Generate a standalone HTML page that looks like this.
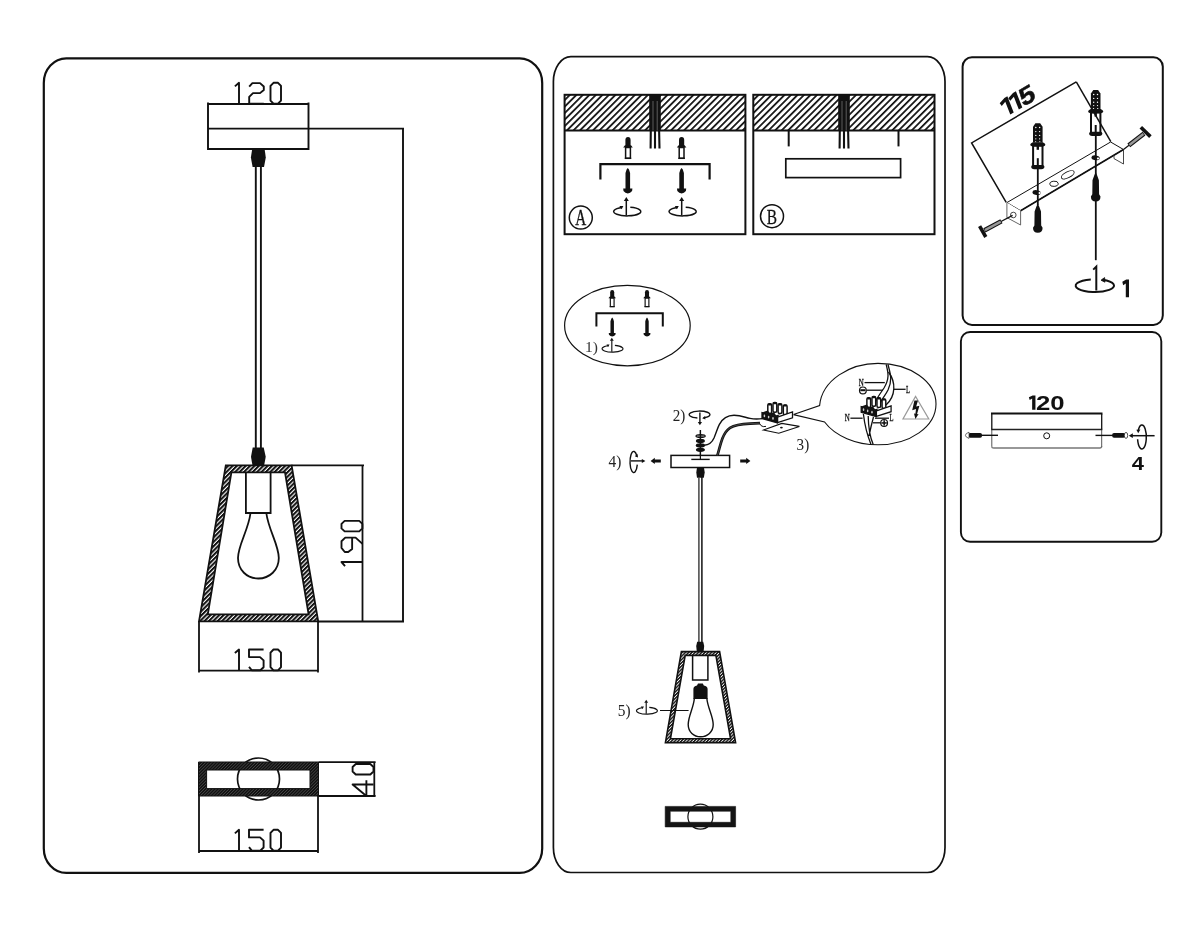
<!DOCTYPE html>
<html><head><meta charset="utf-8"><title>Pendant lamp installation diagram</title>
<style>
html,body{margin:0;padding:0;background:#fff;}
body{width:1200px;height:933px;overflow:hidden;font-family:"Liberation Sans",sans-serif;}
svg{display:block;will-change:transform;}
</style></head><body>
<svg width="1200" height="933" viewBox="0 0 1200 933">
<rect width="1200" height="933" fill="#fff"/>
<defs>
<pattern id="h1" width="4.6" height="4.6" patternUnits="userSpaceOnUse" patternTransform="rotate(-45)"><rect width="4.6" height="4.6" fill="#fff"/><rect y="0" width="4.6" height="1.75" fill="#111"/></pattern>
<pattern id="h2" width="3.1" height="3.1" patternUnits="userSpaceOnUse" patternTransform="rotate(-45)"><rect width="3.1" height="3.1" fill="#fff"/><rect y="0" width="3.1" height="2" fill="#111"/></pattern>
<pattern id="h3" width="2.2" height="2.2" patternUnits="userSpaceOnUse" patternTransform="rotate(-45)"><rect width="2.2" height="2.2" fill="#111"/><rect y="0" width="2.2" height="0.45" fill="#666"/></pattern>
<pattern id="h4" width="2.3" height="2.3" patternUnits="userSpaceOnUse" patternTransform="rotate(-45)"><rect width="2.3" height="2.3" fill="#fff"/><rect y="0" width="2.3" height="1.4" fill="#111"/></pattern>
<g id="anchor"><path d="M-2.6,10 L-2.6,3 Q-2.6,0 0,0 Q2.6,0 2.6,3 L2.6,10 Z" fill="#111"/><path d="M-4.8,10.5 L-3,8.3 L3,8.3 L4.8,10.5 Z" fill="#111"/><rect x="-2.4" y="10.5" width="4.8" height="10.8" fill="#fff" stroke="#111" stroke-width="1.5"/><rect x="-3.2" y="20.6" width="6.4" height="1.4" fill="#111"/></g>
<g id="screw"><path d="M0,0 L1.2,1.6 L2.3,5 L2.3,20.5 L4.6,20.5 L4.3,23 Q2.5,25.4 0,25.4 Q-2.5,25.4 -4.3,23 L-4.6,20.5 L-2.3,20.5 L-2.3,5 L-1.2,1.6 Z" fill="#111"/></g>
<g id="rot"><path d="M-4.6,-3.9 A13.6,4.4 0 1 0 3.5,-4.1" fill="none" stroke="#111" stroke-width="1.5"/><path d="M-7.4,-5.4 L-3.4,-5.2 L-5.4,-2 Z" fill="#111"/><line x1="-0.5" y1="-11" x2="-0.5" y2="4.2" stroke="#111" stroke-width="1.5"/><path d="M-0.5,-14.2 L-3,-10.2 L2,-10.2 Z" fill="#111"/></g>
</defs>
<g fill="none" stroke="#111">
<rect x="43.8" y="58.4" width="498.4" height="814.5" rx="22.5" ry="24.5" stroke-width="2.2"/>
<rect x="553.4" y="56.6" width="391.6" height="815.9" rx="17.5" ry="25" stroke-width="1.7"/>
<rect x="962.6" y="57.2" width="200.2" height="267.7" rx="9.4" ry="9.4" stroke-width="2"/>
<rect x="960.9" y="332" width="200.4" height="209.8" rx="9.2" ry="9.2" stroke-width="1.9"/>
</g>
<g id="p1" fill="none" stroke="#111" stroke-width="1.9">
<path d="M208,102.4 L208,149 L308.5,149 L308.5,102.4"/>
<line x1="208" y1="104" x2="308.5" y2="104"/>
<line x1="208" y1="128.6" x2="404" y2="128.6"/>
<line x1="403" y1="128.6" x2="403" y2="621.5"/>
<line x1="255.8" y1="166" x2="255.8" y2="448" stroke-width="1.9"/><line x1="260.9" y1="166" x2="260.9" y2="448" stroke-width="1.9"/>
<path d="M252.2,149 L264.6,149 L265.8,157.4 L264,167 L252.6,167 L250.9,157.4 Z" fill="#111" stroke="none"/>
<path d="M252.7,447.6 L263.7,447.6 L265.7,456.7 L264.2,465 L252.4,465 L251,456.7 Z" fill="#111" stroke="none"/>
</g>
<path d="M225.8,465.4 L291.6,465.4 L318.2,621.4 L199,621.4 Z M231.4,472.4 L285,472.4 L308.6,614.4 L207.8,614.4 Z" fill="url(#h2)" fill-rule="evenodd" stroke="#111" stroke-width="1.8"/>
<g fill="none" stroke="#111" stroke-width="1.8">
<path d="M245.9,472.4 L245.9,513 L270.6,513 L270.6,472.4"/>
<path d="M250.5,513 C248.5,530 238,545 238,558 C238,570 247,578.5 258.3,578.5 C269.6,578.5 278.8,570 278.8,558 C278.8,545 268.5,530 266.3,513"/>
<line x1="291.5" y1="465.4" x2="364" y2="465.4"/><line x1="362.5" y1="465.4" x2="362.5" y2="621.5"/><line x1="318" y1="621.5" x2="404" y2="621.5"/>
<line x1="199" y1="621.5" x2="199" y2="672.5"/><line x1="318" y1="621.5" x2="318" y2="672.5"/><line x1="199" y1="670.6" x2="318" y2="670.6"/>
</g>
<g transform="translate(234.9,82.8) scale(1,0.985)" fill="none" stroke="#111" stroke-width="1.9" stroke-linejoin="round"><path d="M0,3.6 L4.1,0 L4.1,21.3" transform="translate(0,0)"/><path d="M0,3.8 L3.2,0.3 L10.8,0.3 L14.6,3.8 L14.6,7.3 L10.8,10.5 L3.8,10.5 L0,14.3 L0,21.3 L14.6,21.3" transform="translate(14.3,0)"/><path d="M3,0 L7.5,0 L10.5,3.2 L10.5,18 L7.5,21.2 L3,21.2 L0,18 L0,3.2 Z" transform="translate(35.6,0)"/></g>
<g transform="translate(234.9,649.5) scale(1,0.985)" fill="none" stroke="#111" stroke-width="1.9" stroke-linejoin="round"><path d="M0,3.6 L4.1,0 L4.1,21.3" transform="translate(0,0)"/><path d="M14.6,0 L0,0 L0,7.7 L11,7.7 L14.6,11 L14.6,18 L11.3,21.1 L2.8,21.1 L0,17.6" transform="translate(14.1,0)"/><path d="M3,0 L7.5,0 L10.5,3.2 L10.5,18 L7.5,21.2 L3,21.2 L0,18 L0,3.2 Z" transform="translate(35.6,0)"/></g>
<g transform="translate(341.5,566.1) rotate(-90) scale(1,0.985)" fill="none" stroke="#111" stroke-width="1.9" stroke-linejoin="round"><path d="M0,3.6 L4.1,0 L4.1,21.3" transform="translate(0,0)"/><path d="M8.4,21.3 L14.7,14.3 L14.7,3.8 L11,0 L4.4,0 L0.3,3.3 L0.3,6.8 L3.4,10.8 L14.7,10.8" transform="translate(13.8,0)"/><path d="M3,0 L7.5,0 L10.5,3.2 L10.5,18 L7.5,21.2 L3,21.2 L0,18 L0,3.2 Z" transform="translate(34.7,0)"/></g>
<circle cx="258.5" cy="779" r="21" fill="none" stroke="#111" stroke-width="1.7"/>
<path d="M198.5,762 L318.5,762 L318.5,796 L198.5,796 Z M206.6,770 L310,770 L310,788.6 L206.6,788.6 Z" fill="url(#h3)" fill-rule="evenodd" stroke="#111" stroke-width="1"/>
<g fill="none" stroke="#111" stroke-width="1.8">
<line x1="318.5" y1="762.2" x2="375.6" y2="762.2"/><line x1="318.5" y1="796" x2="375.6" y2="796"/><line x1="374.3" y1="762.2" x2="374.3" y2="796"/>
<line x1="199" y1="796" x2="199" y2="853"/><line x1="318" y1="796" x2="318" y2="853"/><line x1="199" y1="851" x2="318" y2="851"/>
</g>
<g transform="translate(234.9,829.8) scale(1,0.985)" fill="none" stroke="#111" stroke-width="1.9" stroke-linejoin="round"><path d="M0,3.6 L4.1,0 L4.1,21.3" transform="translate(0,0)"/><path d="M14.6,0 L0,0 L0,7.7 L11,7.7 L14.6,11 L14.6,18 L11.3,21.1 L2.8,21.1 L0,17.6" transform="translate(14.1,0)"/><path d="M3,0 L7.5,0 L10.5,3.2 L10.5,18 L7.5,21.2 L3,21.2 L0,18 L0,3.2 Z" transform="translate(35.6,0)"/></g>
<g transform="translate(352.6,796) rotate(-90) scale(1,0.985)" fill="none" stroke="#111" stroke-width="1.9" stroke-linejoin="round"><path d="M11.5,21.3 L11.5,0 L0,14 L15.8,14" transform="translate(0,0)"/><path d="M3,0 L7.5,0 L10.5,3.2 L10.5,18 L7.5,21.2 L3,21.2 L0,18 L0,3.2 Z" transform="translate(21.5,0)"/></g>
<rect x="564.6" y="94.8" width="180.79999999999995" height="35.7" fill="url(#h1)"/><rect x="564.6" y="94.8" width="180.79999999999995" height="139.4" fill="none" stroke="#111" stroke-width="2"/><line x1="564.6" y1="130.5" x2="745.4" y2="130.5" stroke="#111" stroke-width="1.9"/><rect x="649.2" y="94.8" width="11.6" height="36" fill="#111"/><path d="M653.0,101 L653.0,130.5 M657.2,101 L657.2,130.5" stroke="#aaa" stroke-width="0.5" fill="none"/><path d="M650.8000000000001,130 L650.6,148.6 M655.0,130 L655.0,148.6 M659.1,130 L659.5,148.6" stroke="#111" stroke-width="2.1" fill="none"/>
<rect x="753.3" y="94.8" width="181.20000000000005" height="35.7" fill="url(#h1)"/><rect x="753.3" y="94.8" width="181.20000000000005" height="139.4" fill="none" stroke="#111" stroke-width="2"/><line x1="753.3" y1="130.5" x2="934.5" y2="130.5" stroke="#111" stroke-width="1.9"/><rect x="838.2" y="94.8" width="11.6" height="36" fill="#111"/><path d="M842.0,101 L842.0,130.5 M846.2,101 L846.2,130.5" stroke="#aaa" stroke-width="0.5" fill="none"/><path d="M839.8000000000001,130 L839.6,148.6 M844.0,130 L844.0,148.6 M848.1,130 L848.5,148.6" stroke="#111" stroke-width="2.1" fill="none"/>
<use href="#anchor" x="628" y="137"/><use href="#anchor" x="681.6" y="137"/>
<path d="M600.4,179.5 L600.4,164.2 L709.6,164.2 L709.6,179.5" fill="none" stroke="#111" stroke-width="2.2"/>
<use href="#screw" x="627.8" y="168"/><use href="#screw" x="681.6" y="168"/>
<use href="#rot" x="626.8" y="211.3"/><use href="#rot" x="682.2" y="211.3"/>
<circle cx="580.8" cy="217.6" r="11.5" fill="none" stroke="#111" stroke-width="1.5"/>
<text x="0" y="0" transform="translate(580.7,225) scale(0.66,1)" text-anchor="middle" font-family="Liberation Serif, serif" font-size="23" fill="#111" stroke="#111" stroke-width="0.4">A</text>
<line x1="788.7" y1="130.5" x2="788.7" y2="146.4" stroke="#111" stroke-width="2"/><line x1="898.5" y1="130.5" x2="898.5" y2="146.4" stroke="#111" stroke-width="2"/>
<rect x="785.8" y="158.8" width="114.8" height="18.8" fill="none" stroke="#111" stroke-width="1.7"/>
<circle cx="772" cy="216.2" r="11.5" fill="none" stroke="#111" stroke-width="1.5"/>
<text x="0" y="0" transform="translate(772,223.6) scale(0.7,1)" text-anchor="middle" font-family="Liberation Serif, serif" font-size="22" fill="#111" stroke="#111" stroke-width="0.3">B</text>
<ellipse cx="627.4" cy="325.6" rx="62.8" ry="40.2" fill="none" stroke="#111" stroke-width="1.2"/>
<use href="#anchor" transform="translate(612.2,290) scale(0.78)"/><use href="#anchor" transform="translate(647,290) scale(0.78)"/>
<path d="M596.4,326.6 L596.4,313.3 L662.8,313.3 L662.8,326.6" fill="none" stroke="#111" stroke-width="2"/>
<use href="#screw" transform="translate(612.2,317.5) scale(0.75)"/><use href="#screw" transform="translate(647,317.5) scale(0.75)"/>
<use href="#rot" transform="translate(612.2,348.6) scale(0.77)"/>
<text x="585" y="352.3" font-family="Liberation Serif, serif" font-size="15.5" fill="#333">1)</text>
<g fill="none" stroke="#111" stroke-width="1.4">
<rect x="671" y="455.4" width="58.6" height="12.1" stroke-width="1.5"/>
<line x1="691.3" y1="459.4" x2="709.7" y2="459.4" stroke-width="1.4"/>
<line x1="700.4" y1="430" x2="700.4" y2="459.4" stroke-width="1.2"/>
<path d="M704.2,445.2 C709,445 712,442.5 714,438 C716.5,432 717.5,428 719.4,424.4 C722.5,418.6 727,415.4 734,415.3 C741,415.3 745,417.4 750,418.4 C755,419.4 758,419.2 762.5,418.6"/>
<path d="M717.4,455.4 C719.4,449 720.4,443.6 722.4,438.4 C724.4,433.4 726.6,430 730,427.8 C735,424.8 742,424 750,423.6 L760,423.2" stroke-width="2.7"/>
<path d="M717.4,455.4 C719.4,449 720.4,443.6 722.4,438.4 C724.4,433.4 726.6,430 730,427.8 C735,424.8 742,424 750,423.6 L760,423.2" stroke="#777" stroke-width="0.5"/>
<path d="M759.6,423.4 L761,425.6 Q763,427.2 766,426.4" stroke-width="1"/>
</g>
<g fill="#111" stroke="none"><ellipse cx="700.6" cy="436" rx="5.2" ry="2"/><rect x="696.8" y="435.7" width="7.6" height="0.7" fill="#ddd"/><ellipse cx="700.4" cy="440.9" rx="4.5" ry="2.1"/><ellipse cx="700.4" cy="445.4" rx="4.6" ry="2.1"/><ellipse cx="700.4" cy="449.8" rx="4.5" ry="2.1"/><rect x="699.8" y="430" width="1.3" height="26"/></g>
<path d="M697,467.4 L704,467.4 L704.7,472.4 L703.8,477.8 L697,477.8 L696.3,472.4 Z" fill="#111"/>
<line x1="698.9" y1="477" x2="698.9" y2="642" stroke="#444" stroke-width="1.5"/><line x1="701.9" y1="477" x2="701.9" y2="642" stroke="#111" stroke-width="1.5"/>
<text x="672.7" y="421.1" font-family="Liberation Serif, serif" font-size="16" textLength="12.6" lengthAdjust="spacingAndGlyphs" fill="#222">2)</text>
<text x="796.6" y="450.4" font-family="Liberation Serif, serif" font-size="16" textLength="12.6" lengthAdjust="spacingAndGlyphs" fill="#222">3)</text>
<text x="608.6" y="466.8" font-family="Liberation Serif, serif" font-size="16" textLength="12.8" lengthAdjust="spacingAndGlyphs" fill="#222">4)</text>
<text x="617.8" y="716" font-family="Liberation Serif, serif" font-size="16" textLength="12.8" lengthAdjust="spacingAndGlyphs" fill="#222">5)</text>
<g fill="none" stroke="#111" stroke-width="1.4"><path d="M697.4,418 A10.4,3.5 0 1 1 703.6,417.8"/><line x1="699.9" y1="412.4" x2="699.9" y2="422.6"/></g><path d="M699.9,425.3 L697.8,422 L702,422 Z" fill="#111"/><path d="M702.2,418.2 L705.2,416 L705.4,419.4 Z" fill="#111"/>
<g fill="none" stroke="#111" stroke-width="1.4"><path d="M636.9,456.6 A3.7,10.6 0 1 0 637.3,464.6"/><line x1="631" y1="460.9" x2="642.4" y2="460.9"/></g><path d="M645.4,460.9 L641.8,458.9 L641.8,462.9 Z" fill="#111"/><path d="M637.4,453.8 L638,457.4 L634.8,456.2 Z" fill="#111"/>
<path d="M650.6,460.9 L654.8,457.7 L654.8,459.5 L660.8,459.5 L660.8,462.4 L654.8,462.4 L654.8,464.1 Z" fill="#111"/>
<path d="M750.4,460.9 L746.2,457.7 L746.2,459.5 L740.2,459.5 L740.2,462.4 L746.2,462.4 L746.2,464.1 Z" fill="#111"/>
<g transform="translate(762,402.3) scale(1.0)"><rect x="5.800000000000001" y="1.4" width="3.8" height="9.8" rx="1.5" fill="#fff" stroke="#111" stroke-width="1.5"/><rect x="5.800000000000001" y="1.0999999999999999" width="3.8" height="2" rx="1" fill="#111"/><rect x="11.0" y="0.2" width="3.8" height="9.8" rx="1.5" fill="#fff" stroke="#111" stroke-width="1.5"/><rect x="11.0" y="-0.09999999999999998" width="3.8" height="2" rx="1" fill="#111"/><rect x="16.1" y="1.4" width="3.8" height="9.8" rx="1.5" fill="#fff" stroke="#111" stroke-width="1.5"/><rect x="16.1" y="1.0999999999999999" width="3.8" height="2" rx="1" fill="#111"/><rect x="21.3" y="2.6" width="3.8" height="9.8" rx="1.5" fill="#fff" stroke="#111" stroke-width="1.5"/><rect x="21.3" y="2.3000000000000003" width="3.8" height="2" rx="1" fill="#111"/><path d="M15.5,14.8 L30.5,9.6 L30.5,15.6 L15.5,20.4 Z" fill="#fff" stroke="#111" stroke-width="1.3"/><path d="M0,10.3 L15.5,14.6 L15.5,20.6 L0,16.2 Z" fill="#111" stroke="#111" stroke-width="1.3"/><path d="M0,10.3 L5.6,8.3 L8,11 L12,10 L14,13 L18,12 L15.5,14.6 Z" fill="#111"/><ellipse cx="2.4" cy="13.6" rx="0.8" ry="1.4" fill="#ccc"/><ellipse cx="6.6" cy="14.8" rx="0.8" ry="1.4" fill="#ccc"/><ellipse cx="11" cy="16.1" rx="0.8" ry="1.4" fill="#ccc"/></g>
<path d="M763.5,430 L781.8,423.4 L799.4,426.4 L778.8,433.3 Z" fill="#fff" stroke="#111" stroke-width="1.1"/><ellipse cx="781.4" cy="427.6" rx="1.4" ry="0.9" fill="#111"/>
<path d="M793.5,414.6 L819.6,405.6 C822,380 850,363.4 878,363.4 C910,363.4 936,381.6 936,404 C936,426.6 910,444.8 878,444.8 C856,444.8 835,436 824.6,422 L793.5,414.6" fill="none" stroke="#111" stroke-width="1.1"/>
<g fill="none" stroke="#111" stroke-width="1.3">
<path d="M886.2,364.5 C888,372 890,378 884,388 C880,394 876,399 875,403"/>
<path d="M888,364.5 C890,373 893,379 888,390 C885,396 881,400 880,404"/>
<path d="M888.5,372 C896,382 896,396 886,405"/>
<line x1="864.5" y1="382.6" x2="884.8" y2="382.6"/><line x1="866.8" y1="390.2" x2="883" y2="390.2"/><line x1="894" y1="389.3" x2="905.6" y2="389.3"/>
<line x1="850.4" y1="418.2" x2="862.6" y2="418.2"/><line x1="875" y1="418.2" x2="889" y2="418.2"/><line x1="873" y1="422.8" x2="880.6" y2="422.8"/>
<path d="M863.4,414 C865,428 868,437 871,444.6 M868.2,416 C868.4,428 870,437 873.2,444.6 M873.5,417 C871,426 870,431 869,436"/>
</g>
<circle cx="862.9" cy="390.4" r="3.4" fill="#fff" stroke="#111" stroke-width="1.2"/><rect x="860.3" y="389.2" width="5.2" height="2" fill="#111"/>
<circle cx="884.1" cy="422.9" r="3.4" fill="#fff" stroke="#111" stroke-width="1.2"/><rect x="881.4" y="422.2" width="5.4" height="1.5" fill="#111"/><rect x="883.4" y="420.2" width="1.5" height="5.4" fill="#111"/>
<g transform="translate(861.2,396.4) scale(0.98)"><rect x="5.800000000000001" y="1.4" width="3.8" height="9.8" rx="1.5" fill="#fff" stroke="#111" stroke-width="1.5"/><rect x="5.800000000000001" y="1.0999999999999999" width="3.8" height="2" rx="1" fill="#111"/><rect x="11.0" y="0.2" width="3.8" height="9.8" rx="1.5" fill="#fff" stroke="#111" stroke-width="1.5"/><rect x="11.0" y="-0.09999999999999998" width="3.8" height="2" rx="1" fill="#111"/><rect x="16.1" y="1.4" width="3.8" height="9.8" rx="1.5" fill="#fff" stroke="#111" stroke-width="1.5"/><rect x="16.1" y="1.0999999999999999" width="3.8" height="2" rx="1" fill="#111"/><rect x="21.3" y="2.6" width="3.8" height="9.8" rx="1.5" fill="#fff" stroke="#111" stroke-width="1.5"/><rect x="21.3" y="2.3000000000000003" width="3.8" height="2" rx="1" fill="#111"/><path d="M15.5,14.8 L30.5,9.6 L30.5,15.6 L15.5,20.4 Z" fill="#fff" stroke="#111" stroke-width="1.3"/><path d="M0,10.3 L15.5,14.6 L15.5,20.6 L0,16.2 Z" fill="#111" stroke="#111" stroke-width="1.3"/><path d="M0,10.3 L5.6,8.3 L8,11 L12,10 L14,13 L18,12 L15.5,14.6 Z" fill="#111"/><ellipse cx="2.4" cy="13.6" rx="0.8" ry="1.4" fill="#ccc"/><ellipse cx="6.6" cy="14.8" rx="0.8" ry="1.4" fill="#ccc"/><ellipse cx="11" cy="16.1" rx="0.8" ry="1.4" fill="#ccc"/></g>
<text transform="translate(858.7,385.8) scale(0.72,1)" font-family="Liberation Serif, serif" font-size="9.7" fill="#111" stroke="#111" stroke-width="0.3">N</text><text transform="translate(906,392.5) scale(0.68,1)" font-family="Liberation Serif, serif" font-size="9.7" fill="#111" stroke="#111" stroke-width="0.3">L</text><text transform="translate(844.8,421.3) scale(0.72,1)" font-family="Liberation Serif, serif" font-size="9.7" fill="#111" stroke="#111" stroke-width="0.3">N</text><text transform="translate(889.5,421.3) scale(0.68,1)" font-family="Liberation Serif, serif" font-size="9.7" fill="#111" stroke="#111" stroke-width="0.3">L</text>
<path d="M915.6,396.4 L903,419 L928.8,419 Z" fill="none" stroke="#999" stroke-width="1.2"/>
<path d="M914.4,400.4 L918,400.4 L916.2,406.6 L919.4,405.8 L917,414.2 L918.6,414 L915.4,419 L914,413.6 L915.4,413.8 L916,409 L912.2,410.2 Z" fill="#111"/>
<path d="M697.2,641.8 L703.2,641.8 L704.2,646 L703.6,651.6 L696.8,651.6 L696.2,646 Z" fill="#111"/>
<path d="M681.4,651.6 L719.6,651.6 L735.6,742.6 L665.4,742.6 Z M685.2,655.4 L715.9,655.4 L730.6,738.8 L670.4,738.8 Z" fill="url(#h4)" fill-rule="evenodd" stroke="#111" stroke-width="1.6"/>
<path d="M692.6,655.4 L692.6,680 L707.9,680 L707.9,655.4" fill="none" stroke="#111" stroke-width="1.5"/>
<path d="M693.4,699 L693.4,689 Q693.4,686 697,685.4 L698,683.6 L702.8,683.6 L703.8,685.4 Q707.6,686 707.6,689 L707.6,699 Z" fill="#111"/>
<path d="M694.4,698 C693.6,708 688.2,716 688.2,724.6 C688.2,732 693.8,736.8 700.6,736.8 C707.4,736.8 713.2,732 713.2,724.6 C713.2,716 707.6,708 706.8,698" fill="none" stroke="#111" stroke-width="1.4"/>
<line x1="660" y1="710.5" x2="688.6" y2="710.5" stroke="#111" stroke-width="1"/>
<use href="#rot" transform="translate(646.6,710.6) scale(0.77)"/>
<circle cx="700.4" cy="816.7" r="12.5" fill="none" stroke="#111" stroke-width="1.2"/>
<path d="M665.2,806.4 L735.6,806.4 L735.6,826.9 L665.2,826.9 Z M670.2,811.2 L730.8,811.2 L730.8,822.3 L670.2,822.3 Z" fill="#141414" fill-rule="evenodd" stroke="#111" stroke-width="0.6"/>
<defs>
<g id="anc2"><path d="M-4.8,19.4 L-4.8,3.6 L-2.4,0 L2.4,0 L4.8,3.6 L4.8,19.4 Z" fill="#111"/><g fill="#fff"><circle cx="-2" cy="4.4" r="0.75"/><circle cx="1.8" cy="4.4" r="0.75"/><circle cx="-2" cy="8.4" r="0.7"/><circle cx="1.8" cy="8.4" r="0.7"/><circle cx="-2" cy="12.2" r="0.7"/><circle cx="1.8" cy="12.2" r="0.7"/><circle cx="-2" cy="15.6" r="0.65"/><circle cx="1.8" cy="15.6" r="0.65"/><circle cx="-2.2" cy="18.8" r="0.7"/><circle cx="2" cy="18.8" r="0.7"/></g><path d="M-7.6,21.6 Q-7.6,20.4 -5,19 L5,19 Q7.6,20.4 7.6,21.6 Q7.6,23 5.4,23.2 L-5.4,23.2 Q-7.6,23 -7.6,21.6 Z" fill="#111"/><rect x="-4.7" y="22.6" width="9.4" height="20.4" fill="#fff" stroke="#111" stroke-width="2"/><line x1="0" y1="22.4" x2="0" y2="26.6" stroke="#111" stroke-width="2.4"/><line x1="0" y1="35" x2="0" y2="43" stroke="#111" stroke-width="2"/><path d="M-6.6,43.6 Q-6.6,41.8 -4.6,41.8 L4.6,41.8 Q6.6,41.8 6.6,43.6 Q6.6,46 3.6,46 L-3.6,46 Q-6.6,46 -6.6,43.6 Z" fill="#111"/></g>
<g id="scr2"><path d="M0,0 L1.4,3 L3.2,8 L3.4,22 L4.8,24.4 Q4.8,29.4 0,29.4 Q-4.8,29.4 -4.8,24.4 L-3.4,22 L-3.2,8 L-1.4,3 Z" fill="#111"/></g>
</defs>
<g fill="none" stroke="#111" stroke-width="1.5">
<path d="M1006.2,202.4 L971.6,142.9 L1076.3,81.8"/>
</g>
<path d="M1006.9,202.6 L1110.6,142 L1123.5,149.5 L1020.6,210.7 Z" fill="#fff" stroke="#111" stroke-width="1"/>
<line x1="1020.6" y1="210.7" x2="1123.5" y2="149.5" stroke="#111" stroke-width="1.6"/>
<path d="M1006.9,202.6 L1006.9,217.6 L1020.6,225 L1020.6,210.7" fill="#fff" stroke="#555" stroke-width="0.9"/>
<path d="M1123.5,149.5 L1123.5,164 L1114,158.6 L1114,155.2" fill="none" stroke="#333" stroke-width="0.9"/>
<circle cx="1013.3" cy="215" r="2.8" fill="#fff" stroke="#333" stroke-width="0.9"/>
<ellipse cx="1036.6" cy="192.6" rx="4.2" ry="2.4" fill="#111" transform="rotate(8 1036.6 192.6)"/><ellipse cx="1039.2" cy="193" rx="1.5" ry="1.2" fill="#fff"/>
<ellipse cx="1095.6" cy="157.8" rx="4.2" ry="2.4" fill="#111" transform="rotate(8 1095.6 157.8)"/><ellipse cx="1098" cy="158.4" rx="1.3" ry="1" fill="#fff"/>
<ellipse cx="1054" cy="183.8" rx="4.2" ry="2.6" fill="#fff" stroke="#111" stroke-width="0.9" transform="rotate(-5 1054 183.8)"/>
<ellipse cx="1067.8" cy="174.8" rx="7" ry="3" fill="#fff" stroke="#111" stroke-width="0.9" transform="rotate(-27 1067.8 174.8)"/>
<line x1="1037.8" y1="166" x2="1037.8" y2="205" stroke="#111" stroke-width="1.8"/>
<line x1="1095.8" y1="133" x2="1095.8" y2="260.2" stroke="#111" stroke-width="1.8"/>
<use href="#anc2" x="1037.8" y="123.2"/><use href="#anc2" x="1095.7" y="90"/>
<use href="#scr2" x="1037.8" y="203.4"/><use href="#scr2" x="1095.7" y="172.2"/>
<path d="M1076.3,81.8 L1110.8,141.6" fill="none" stroke="#111" stroke-width="1.5"/>
<line x1="979.6" y1="226.2" x2="985.8" y2="237" stroke="#111" stroke-width="3.6"/>
<line x1="984.4" y1="230.4" x2="1001.4" y2="221.3" stroke="#111" stroke-width="4.6"/><line x1="985" y1="230.1" x2="1000.8" y2="221.6" stroke="#999" stroke-width="2.4"/>
<line x1="1001" y1="221.5" x2="1012.6" y2="215.4" stroke="#111" stroke-width="1.3"/>
<line x1="1140.8" y1="127.2" x2="1150.4" y2="136.6" stroke="#111" stroke-width="3.6"/>
<line x1="1128.8" y1="145.4" x2="1144" y2="133.6" stroke="#111" stroke-width="4.6"/><line x1="1129.4" y1="145" x2="1143.4" y2="134" stroke="#999" stroke-width="2.4"/>
<line x1="1123.5" y1="149.5" x2="1129" y2="145.3" stroke="#111" stroke-width="1.3"/>
<g transform="matrix(0.862,-0.508,0.365,0.931,1012,113.6)" fill="#111"><path d="M2.00,0.00 L2.00,-17.50 L-1.40,-17.50 L-7.80,-15.30 L-6.80,-12.00 L-2.00,-13.70 L-2.00,0.00 Z"/><path d="M2.00,0.00 L2.00,-17.50 L-1.40,-17.50 L-7.80,-15.30 L-6.80,-12.00 L-2.00,-13.70 L-2.00,0.00 Z" transform="translate(9.95,0)"/><text transform="translate(13.1,0) scale(1.16,1)" font-family="Liberation Sans, sans-serif" font-weight="bold" font-size="24.4" stroke="#111" stroke-width="0.5">5</text></g>
<g fill="none" stroke="#111" stroke-width="2"><path d="M1090.8,279.4 A19.2,6.4 0 1 0 1102.6,279.8"/><path d="M1093.2,269.6 L1096.3,266.6 L1096.3,290.6"/></g><path d="M1101,280.2 L1104.6,277.6 L1105,282.2 Z" fill="#111" stroke="#111" stroke-width="0.8" stroke-linejoin="round"/>
<path d="M2.01,0.00 L2.01,-17.60 L-1.41,-17.60 L-6.34,-15.39 L-5.33,-12.07 L-2.01,-13.78 L-2.01,0.00 Z" transform="translate(1127.4,297.2) scale(0.8,1)" fill="#111"/>
<path d="M1.65,0.00 L1.65,-14.40 L-1.15,-14.40 L-4.94,-12.59 L-4.11,-9.87 L-1.65,-11.27 L-1.65,0.00 Z" transform="translate(1033.8,409.8)" fill="#111"/>
<text transform="translate(1035.9,409.8) scale(1.28,1)" font-family="Liberation Sans, sans-serif" font-weight="bold" font-size="20.1" fill="#111">20</text>
<path d="M991.8,447 L991.8,446.4 Q991.8,448 993.8,448 L1099.8,448 Q1101.7,448 1101.7,446" fill="none" stroke="#777" stroke-width="1.3"/>
<path d="M991.8,429.6 L991.8,446.6 M1101.7,429.6 L1101.7,446.6" fill="none" stroke="#555" stroke-width="1"/>
<line x1="991.2" y1="429.5" x2="1102.3" y2="429.5" stroke="#222" stroke-width="1.3"/>
<path d="M991.8,429.6 L991.8,414" fill="none" stroke="#111" stroke-width="1.3"/><path d="M1101.7,429.6 L1101.7,414" fill="none" stroke="#111" stroke-width="1.3"/>
<line x1="991" y1="413.5" x2="1102.5" y2="413.5" stroke="#111" stroke-width="2.1"/>
<circle cx="1046.7" cy="435.8" r="3" fill="#fff" stroke="#111" stroke-width="1"/>
<line x1="981" y1="435.3" x2="998" y2="435.3" stroke="#111" stroke-width="1.4"/><rect x="968.4" y="433" width="13.6" height="4.8" rx="1.8" fill="#111"/><path d="M969,432.2 Q965.4,433.4 965.4,435.3 Q965.4,437.2 969,438.4 Z" fill="#fff" stroke="#333" stroke-width="0.7"/>
<line x1="1095.5" y1="435.4" x2="1113" y2="435.4" stroke="#111" stroke-width="1.4"/><rect x="1112.2" y="433" width="13" height="4.8" rx="1.8" fill="#111"/><ellipse cx="1126" cy="435.4" rx="1.7" ry="3" fill="#fff" stroke="#222" stroke-width="0.8"/>
<g fill="none" stroke="#111" stroke-width="1.5"><path d="M1138.2,430.6 A4.4,12 0 1 1 1137.6,439.2"/><line x1="1132" y1="435.7" x2="1154.6" y2="435.7"/></g><path d="M1128.8,435.7 L1132.8,433.3 L1132.8,438.1 Z" fill="#111"/><path d="M1136.4,429.8 L1140.4,429.4 L1138.2,433.2 Z" fill="#111"/>
<text transform="translate(1137.9,470.4) scale(1.2,1)" text-anchor="middle" font-family="Liberation Sans, sans-serif" font-weight="bold" font-size="18.3" fill="#111">4</text>
</svg>
</body></html>
